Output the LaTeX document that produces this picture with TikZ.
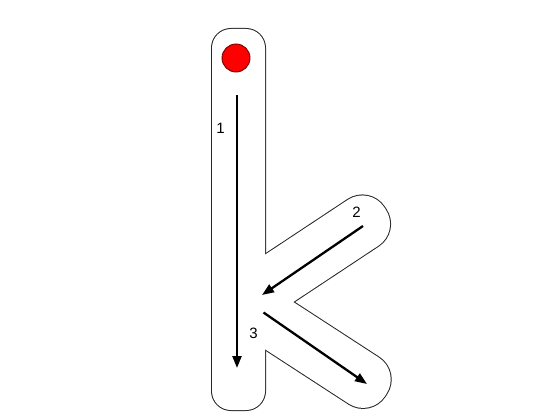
\documentclass[tikz,border=0pt]{standalone}
\usepackage{fontspec}
\setmainfont{Liberation Sans}
\usetikzlibrary{arrows.meta}
\begin{document}
\begin{tikzpicture}[x=1pt,y=-1pt,
  edgestroke/.style={draw=black!85, line width=2pt},
  whitefill/.style={fill=white, draw=none},
  arr/.style={line width=2.3pt, -{Triangle[length=12pt,width=9pt]}},
  lbl/.style={font=\fontsize{15}{18}\selectfont, inner sep=0pt},
  dot/.style={circle, fill=red, draw=red!45!black, line width=0.9pt, minimum size=28pt, inner sep=0pt}]
\useasboundingbox (0,0) rectangle (560,420);
\fill[white] (0,0) rectangle (560,420);
% outline strokes
\path[edgestroke, rounded corners=19pt] (212,29) rectangle (265,410);
\path[edgestroke, rounded corners=26pt] (221.2,283.7) -- (369.7,185.4) -- (400.1,231.3) -- (251.6,329.6) -- cycle;
\path[edgestroke, rounded corners=26pt] (251.35,274.75) -- (400.7,371.8) -- (370.7,417.9) -- (221.35,320.85) -- cycle;
% fills (cover inner halves and interior lines)
\path[whitefill, rounded corners=19pt] (212,29) rectangle (265,410);
\path[whitefill, rounded corners=26pt] (221.2,283.7) -- (369.7,185.4) -- (400.1,231.3) -- (251.6,329.6) -- cycle;
\path[whitefill, rounded corners=26pt] (251.35,274.75) -- (400.7,371.8) -- (370.7,417.9) -- (221.35,320.85) -- cycle;
% start dot
\node[dot] (start) at (236,58) {};
% arrows
\coordinate (a1s) at (237,95);
\coordinate (a1e) at (237,368);
\coordinate (a2s) at (363,226);
\coordinate (a2e) at (262,295);
\coordinate (a3s) at (263.5,312.5);
\coordinate (a3e) at (367,384);
\draw[arr] (a1s) -- (a1e);
\draw[arr] (a2s) -- (a2e);
\draw[arr] (a3s) -- (a3e);
% labels
\node[lbl] (n1) at (220.5,128) {1};
\node[lbl] (n2) at (356.5,212) {2};
\node[lbl] (n3) at (253.5,333.5) {3};
\end{tikzpicture}
\end{document}
